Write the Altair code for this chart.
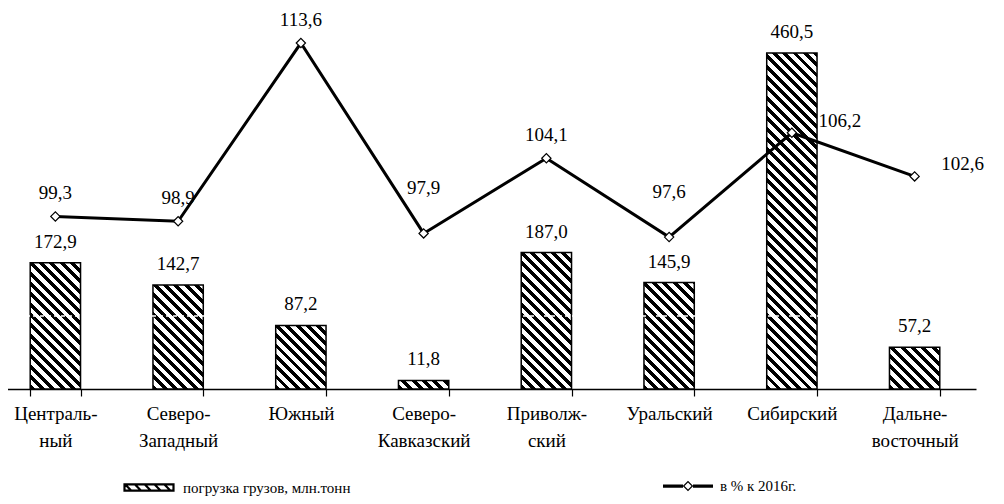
import json
import math
import altair as alt
import pandas as pd

# ---- data -------------------------------------------------------------
categories = ["Центральный", "Северо-Западный", "Южный", "Северо-Кавказский",
              "Приволжский", "Уральский", "Сибирский", "Дальневосточный"]
tick_labels = [["Централь-", "ный"], ["Северо-", "Западный"], ["Южный"],
               ["Северо-", "Кавказский"], ["Приволж-", "ский"], ["Уральский"],
               ["Сибирский"], ["Дальне-", "восточный"]]
loading = [172.9, 142.7, 87.2, 11.8, 187.0, 145.9, 460.5, 57.2]
pct = [99.3, 98.9, 113.6, 97.9, 104.1, 97.6, 106.2, 102.6]
series_names = ["погрузка грузов, млн.тонн", "в % к 2016г."]
right_labelled = ["Сибирский", "Дальневосточный"]
raised_labelled = ["Северо-Кавказский", "Уральский"]
grid_value = [100]

df = pd.DataFrame({"region": categories, "loading": loading, "pct": pct})

# ---- layout constants ---------------------------------------------------
W, H = 988, 377
X_RANGE = [-14, 968]
PAD_IN, PAD_OUT = 0.59, 0.295
BAR_MAX = 516.7
PCT_DOMAIN = [85.07, 116.16]
FONT = "Liberation Serif"

step = (X_RANGE[1] - X_RANGE[0]) / (len(categories) - PAD_IN + 2 * PAD_OUT)
band_w = step * (1 - PAD_IN)


def hatch(value, period=7.3, black=0.48):
    """Diagonal '\\' hatch as a sharp-stop linear gradient in bbox units."""
    h = value * H / BAR_MAX
    w = band_w
    gx = (w + h) * w / (w * w + h * h)
    x2, y2 = gx, 1 - gx * h / w
    total = w + h
    p = period * math.sqrt(2)
    stops = []
    s = 0.0
    while s < total:
        a = s / total
        b = min((s + p * black) / total, 1)
        c = min((s + p) / total, 1)
        stops += [{"offset": a, "color": "black"}, {"offset": b, "color": "black"},
                  {"offset": b, "color": "white"}, {"offset": c, "color": "white"}]
        s += p
    return alt.LinearGradient(gradient="linear", stops=stops, x1=0, y1=1, x2=x2, y2=y2)


label_expr = (json.dumps(tick_labels, ensure_ascii=False) + "[indexof(" +
              json.dumps(categories, ensure_ascii=False) + ", datum.value)]")

x_scale = alt.Scale(domain=categories, range=X_RANGE, paddingInner=PAD_IN, paddingOuter=PAD_OUT)
x_enc = alt.X("region:N", sort=categories, scale=x_scale,
              axis=alt.Axis(title=None, labelExpr=label_expr, labelAngle=0,
                            labelFont=FONT, labelFontSize=19, labelColor="black",
                            labelLineHeight=27, labelPadding=8, labelBaseline="top",
                            tickBand="extent", tickColor="black", tickSize=7, tickWidth=1.2,
                            domainColor="black", domainWidth=1.3, grid=False))

bar_scale = alt.Scale(domain=[0, BAR_MAX], zero=False, nice=False)
pct_scale = alt.Scale(domain=PCT_DOMAIN, zero=False, nice=False)

# ---- bars ---------------------------------------------------------------
bar_layers = []
for cat, val in zip(categories, loading):
    bar_layers.append(
        alt.Chart(df).transform_filter(alt.datum.region == cat)
        .mark_bar(fill=hatch(val), stroke="black", strokeWidth=1.5)
        .encode(x=x_enc, y=alt.Y("loading:Q", scale=bar_scale, axis=None))
    )

grid_rule = alt.Chart(pd.DataFrame({"v": grid_value})).mark_rule(
    color="white", strokeDash=[4, 3], strokeWidth=1.5
).encode(y=alt.Y("v:Q", scale=bar_scale, axis=None))

bar_text = alt.Chart(df).transform_calculate(
    lab="replace(format(datum.loading, '.1f'), '.', ',')"
).mark_text(font=FONT, fontSize=19, color="black", dy=-21, baseline="middle").encode(
    x=x_enc, y=alt.Y("loading:Q", scale=bar_scale, axis=None), text="lab:N")

bars = alt.layer(*bar_layers, grid_rule, bar_text)

# ---- line ---------------------------------------------------------------
y_pct = alt.Y("pct:Q", scale=pct_scale, axis=None)
line = alt.Chart(df).mark_line(color="black", strokeWidth=3).encode(x=x_enc, y=y_pct)
points = alt.Chart(df).mark_point(shape="diamond", filled=True, fill="white", stroke="black",
                                  strokeWidth=1.2, size=85, opacity=1).encode(x=x_enc, y=y_pct)
right_json = json.dumps(right_labelled, ensure_ascii=False)
raised_json = json.dumps(raised_labelled, ensure_ascii=False)
pct_base = alt.Chart(df).transform_calculate(
    lab="replace(format(datum.pct, '.1f'), '.', ',')")
pct_text_top = pct_base.transform_filter(
    f"indexof({right_json}, datum.region) < 0 && indexof({raised_json}, datum.region) < 0"
).mark_text(font=FONT, fontSize=19, color="black", dy=-23, baseline="middle"
            ).encode(x=x_enc, y=y_pct, text="lab:N")
pct_text_raised = pct_base.transform_filter(
    f"indexof({raised_json}, datum.region) >= 0"
).mark_text(font=FONT, fontSize=19, color="black", dy=-45, baseline="middle"
            ).encode(x=x_enc, y=y_pct, text="lab:N")
pct_text_right = pct_base.transform_filter(
    f"indexof({right_json}, datum.region) >= 0"
).mark_text(font=FONT, fontSize=19, color="black", dx=48, dy=-12, baseline="middle"
            ).encode(x=x_enc, y=y_pct, text="lab:N")

lines = alt.layer(line, points, pct_text_top, pct_text_raised, pct_text_right)

# ---- legends (custom symbols) -------------------------------------------
hatch_path = "M-1,-0.13L1,-0.13L1,0.13L-1,0.13Z"
x0 = -0.98
while x0 <= 0.75:
    hatch_path += f"M{x0:.3f},-0.13L{x0 + 0.26:.3f},0.13"
    x0 += 0.4

line_path = ("M-1,-0.065L-0.2,-0.065L-0.2,0.065L-1,0.065Z"
             "M0.2,-0.065L1,-0.065L1,0.065L0.2,0.065Z"
             "M-0.21,0L0,-0.21L0.21,0L0,0.21Z"
             "M-0.14,0L0,0.14L0.14,0L0,-0.14Z")

leg_df = pd.DataFrame({"s1": [series_names[0]], "s2": [series_names[1]]})
legA = alt.Chart(leg_df).mark_point(filled=False, color="black", opacity=0).encode(
    shape=alt.Shape("s1:N", scale=alt.Scale(domain=[series_names[0]], range=[hatch_path]),
                    legend=alt.Legend(title=None, orient="none", legendX=115, legendY=449.5,
                                      padding=0, symbolSize=2401, symbolOpacity=1,
                                      symbolStrokeColor="black", symbolStrokeWidth=2.2,
                                      symbolFillColor="white", labelFont=FONT, labelFontSize=15,
                                      labelColor="black", labelOffset=8, labelLimit=0)))
legB = alt.Chart(leg_df).mark_point(filled=True, color="black", opacity=0).encode(
    shape=alt.Shape("s2:N", scale=alt.Scale(domain=[series_names[1]], range=[line_path]),
                    legend=alt.Legend(title=None, orient="none", legendX=655, legendY=449,
                                      padding=0, symbolSize=2500, symbolOpacity=1,
                                      symbolFillColor="black", symbolStrokeWidth=0,
                                      labelFont=FONT, labelFontSize=15,
                                      labelColor="black", labelOffset=7, labelLimit=0)))

chart = alt.layer(bars, lines, legA, legB).resolve_scale(
    y="independent", shape="independent"
).resolve_legend(shape="independent").properties(
    width=W, height=H, autosize=alt.AutoSizeParams(type="none"),
    padding={"left": 0, "top": 4, "right": 0, "bottom": 115},
    background="white"
).configure_view(stroke=None)

chart.save("out.html", embed_options={"renderer": "svg", "actions": False})
